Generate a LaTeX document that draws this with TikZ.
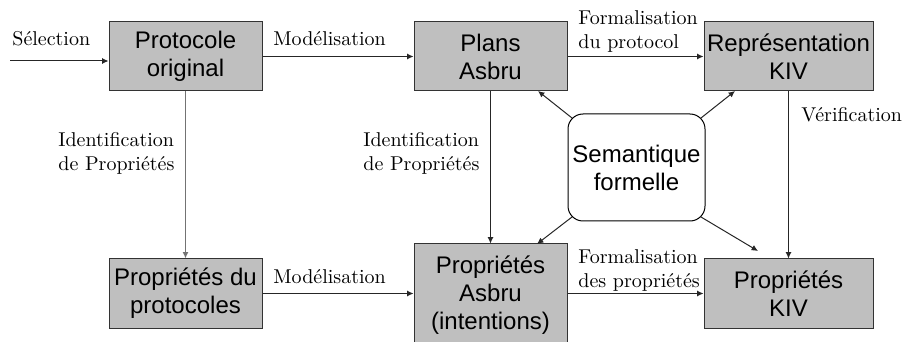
\documentclass[tikz,border=0pt]{standalone}
\usepackage{fontspec}
\setsansfont{Liberation Sans}
\usetikzlibrary{arrows.meta,calc}
\begin{document}
\begin{tikzpicture}[x=0.5pt,y=-0.5pt,
  box/.style={draw=black!80, fill=black!25, line width=0.5pt,
    font=\sffamily\fontsize{12}{14}\selectfont, align=center, inner sep=0pt},
  sembox/.style={box, fill=white, draw=black, rounded corners=7.5pt},
  lbl/.style={font=\fontsize{10}{12}\selectfont, inner sep=0pt},
  mlbl/.style={lbl, align=left, anchor=north west},
  arr/.style={draw=black!85, line width=0.5pt, -{Latex[length=3.2pt,width=3pt]}}]
\useasboundingbox (0,0) rectangle (906,342);

\node[box, minimum width=76.5pt, minimum height=34.5pt] (proto) at (185.5,56.5) {Protocole\\original};
\node[box, minimum width=76.5pt, minimum height=34.5pt] (plans) at (490.5,56.5) {Plans\\Asbru};
\node[box, minimum width=84.5pt, minimum height=34.5pt] (kiv) at (788.5,56.5) {Représentation\\KIV};
\node[box, minimum width=76.5pt, minimum height=34.5pt] (propdu) at (185.5,293.5) {Propriétés du\\protocoles};
\node[box, minimum width=76.5pt, minimum height=51pt] (propasbru) at (490.5,295) {Propriétés\\Asbru\\(intentions)};
\node[box, minimum width=84.5pt, minimum height=34.5pt] (propkiv) at (788.5,293.5) {Propriétés\\KIV};
\node[sembox, minimum width=68.5pt, minimum height=53.5pt] (sem) at (636.5,167.5) {Semantique\\formelle};

% labels
\node[lbl, anchor=base west] (lsel) at (12,46) {Sélection};
\node[lbl, anchor=base west] (lmod1) at (273,46) {Modélisation};
\node[mlbl] (lform1) at (578,10) {Formalisation\\du protocol};
\node[mlbl] (lid1) at (58,132) {Identification\\de Propriétés};
\node[mlbl] (lid2) at (363,132) {Identification\\de Propriétés};
\node[lbl, anchor=base west] (lver) at (801,122) {Vérification};
\node[lbl, anchor=base west] (lmod2) at (273,284) {Modélisation};
\node[mlbl] (lform2) at (578,249) {Formalisation\\des propriétés};

% connectors
\coordinate (selstart) at (10,61);
\draw[arr] (selstart) -- (selstart -| proto.west);
\draw[arr] (proto.east) -- (plans.west);
\draw[arr] (plans.east) -- (kiv.west);
\draw[arr, draw=black!55, line width=0.7pt] (proto.south) -- (propdu.north);
\draw[arr] (plans.south) -- (propasbru.north);
\draw[arr] (kiv.south) -- (propkiv.north);
\draw[arr] (propdu.east) -- (propdu.east -| propasbru.west);
\draw[arr] (propkiv.west -| propasbru.east) -- (propkiv.west);

\coordinate (snw) at ($(sem.north west)+(4.5,4.5)$);
\coordinate (sne) at ($(sem.north east)+(-4.5,4.5)$);
\coordinate (ssw) at ($(sem.south west)+(4.5,-4.5)$);
\coordinate (sse) at ($(sem.south east)+(-4.5,-4.5)$);
\coordinate (tplans) at (538,91);
\coordinate (tkiv) at (735,91);
\coordinate (tpasbru) at (537,244);
\coordinate (tpkiv) at (758,251);
\draw[arr] (snw) -- (tplans);
\draw[arr] (sne) -- (tkiv);
\draw[arr] (ssw) -- (tpasbru);
\draw[arr] (sse) -- (tpkiv);
\end{tikzpicture}
\end{document}
